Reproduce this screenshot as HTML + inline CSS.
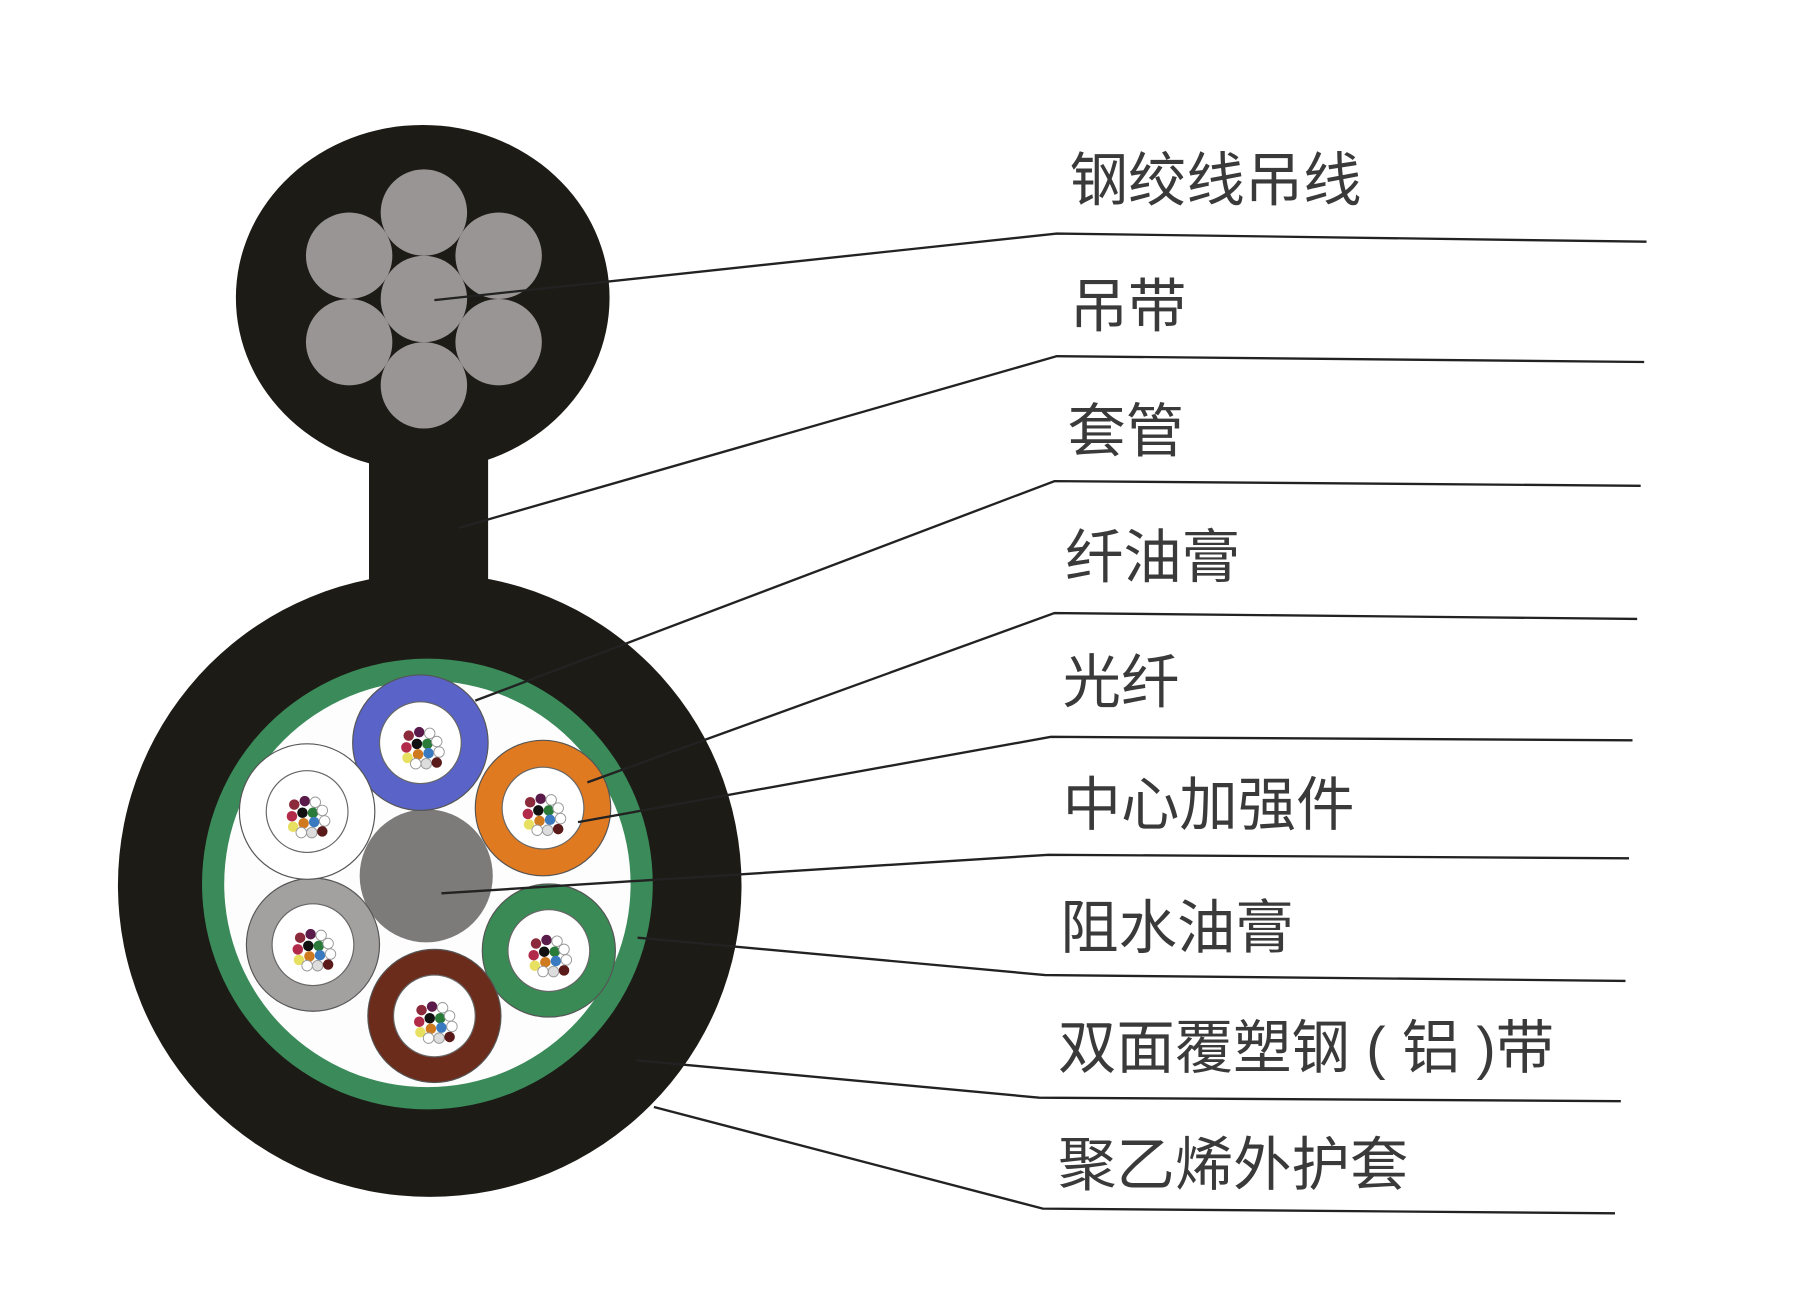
<!DOCTYPE html>
<html><head><meta charset="utf-8"><style>
html,body{margin:0;padding:0;background:#fff;}
svg{display:block;}
text{font-family:"Liberation Sans","Noto Sans CJK SC",sans-serif;fill:#3a3a3a;font-size:50px;dominant-baseline:central;white-space:pre;}
</style></head><body>
<svg width="1810" height="1306" viewBox="0 0 1550 1118.4" xmlns="http://www.w3.org/2000/svg">
<defs>
<g id="fib">
<circle cx="-12" cy="-10" r="4.5" fill="#8a2a3a"/><circle cx="-3" cy="-13" r="4.5" fill="#5a1a4a"/><circle cx="6" cy="-12" r="4.5" fill="#fff" stroke="#999" stroke-width="0.8"/>
<circle cx="-14" cy="0" r="4.5" fill="#b22a4a"/><circle cx="-5" cy="-3" r="4.5" fill="#111"/><circle cx="4" cy="-3" r="4.5" fill="#2a7a3a"/><circle cx="12" cy="-5" r="4.5" fill="#fff" stroke="#999" stroke-width="0.8"/>
<circle cx="-13" cy="9" r="4.5" fill="#e8e060"/><circle cx="-4" cy="6" r="4.5" fill="#d07a20"/><circle cx="5" cy="5" r="4.5" fill="#3a7ac0"/><circle cx="14" cy="4" r="4.5" fill="#fff" stroke="#999" stroke-width="0.8"/>
<circle cx="-6" cy="14" r="4.5" fill="#fff" stroke="#999" stroke-width="0.8"/><circle cx="3" cy="14" r="4.5" fill="#ddd" stroke="#999" stroke-width="0.8"/><circle cx="12" cy="13" r="4.5" fill="#5a1a1a"/>
</g>
</defs>
<ellipse cx="362" cy="255" rx="160" ry="148" fill="#1c1b16"/>
<rect x="316" y="380" width="102" height="150" fill="#1c1b16"/>
<circle cx="368" cy="758" r="267" fill="#1c1b16"/>
<g fill="#9a9595">
<circle cx="363" cy="182" r="37"/><circle cx="363" cy="330" r="37"/>
<circle cx="299" cy="219" r="37"/><circle cx="427" cy="219" r="37"/>
<circle cx="299" cy="293" r="37"/><circle cx="427" cy="293" r="37"/>
<circle cx="363" cy="256" r="37"/>
</g>
<circle cx="366" cy="757" r="193" fill="#3b8a5a"/>
<circle cx="366" cy="757" r="174" fill="#fdfdfd"/>
<circle cx="365" cy="750" r="57" fill="#7d7b7a"/>
<g stroke="#555" stroke-width="1">
<circle cx="360" cy="636" r="58" fill="#5a64c8"/>
<circle cx="465" cy="692" r="58" fill="#e07a20"/>
<circle cx="470" cy="814" r="57" fill="#3a8a55"/>
<circle cx="372" cy="870" r="57" fill="#6b2c1c"/>
<circle cx="268" cy="809" r="57" fill="#a3a1a0"/>
<circle cx="263" cy="695" r="58" fill="#fff"/>
</g>
<g fill="#fff" stroke="#666" stroke-width="1">
<circle cx="360" cy="636" r="35"/><circle cx="465" cy="692" r="35"/><circle cx="470" cy="814" r="35"/>
<circle cx="372" cy="870" r="35"/><circle cx="268" cy="809" r="35"/><circle cx="263" cy="695" r="35"/>
</g>
<use href="#fib" x="362" y="640"/><use href="#fib" x="466" y="697"/><use href="#fib" x="471" y="818"/>
<use href="#fib" x="373" y="875"/><use href="#fib" x="269" y="813"/><use href="#fib" x="264" y="699"/>
<g stroke="#222" stroke-width="2" fill="none">
<polyline points="372,257 905,200 1410,207"/>
<polyline points="393,452 905,305 1408,310"/>
<polyline points="407,600 903,412 1405,416"/>
<polyline points="503,670 903,525 1402,530"/>
<polyline points="495,704 900,631 1398,634"/>
<polyline points="378,765 898,732 1395,735"/>
<polyline points="546,803 895,835 1392,840"/>
<polyline points="545,908 890,940 1388,943"/>
<polyline points="560,948 893,1035 1383,1039"/>
</g>
<text x="916" y="155">钢绞线吊线</text>
<text x="916" y="263">吊带</text>
<text x="914" y="370">套管</text>
<text x="912" y="478">纤油膏</text>
<text x="910" y="585">光纤</text>
<text x="910" y="690">中心加强件</text>
<text x="908" y="795">阻水油膏</text>
<text x="906" y="898">双面覆塑钢 ( 铝 )带</text>
<text x="906" y="998">聚乙烯外护套</text>
</svg>
</body></html>
